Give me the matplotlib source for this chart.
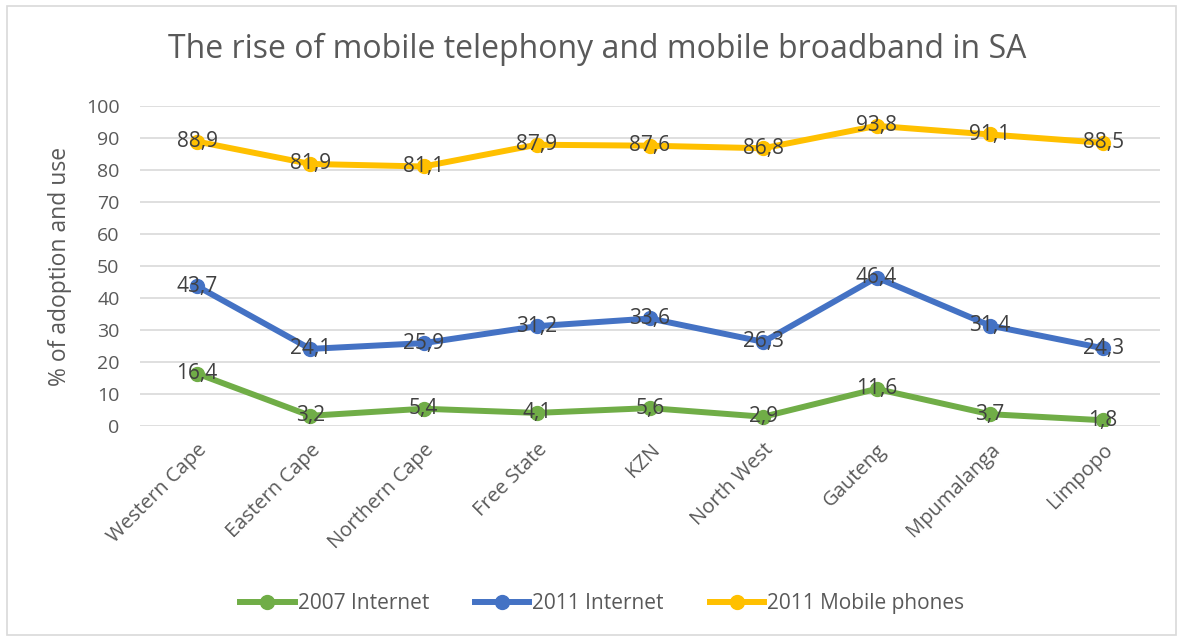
import numpy as np
import matplotlib.pyplot as plt
from matplotlib.patches import Rectangle

# data
provinces = ['Western Cape', 'Eastern Cape', 'Northern Cape', 'Free State', 'KZN',
             'North West', 'Gauteng', 'Mpumalanga', 'Limpopo']
internet_2007 = [16.4, 3.2, 5.4, 4.1, 5.6, 2.9, 11.6, 3.7, 1.8]
internet_2011 = [43.7, 24.1, 25.9, 31.2, 33.6, 26.3, 46.4, 31.4, 24.3]
mobile_2011 = [88.9, 81.9, 81.1, 87.9, 87.6, 86.8, 93.8, 91.1, 88.5]

plt.rcParams['font.family'] = ['Open Sans', 'DejaVu Sans']
txt = '#404040'
grey = '#595959'

fig = plt.figure(figsize=(11.83, 6.39), dpi=100)
fig.patches.append(Rectangle((0.006, 0.006), 0.988, 0.985, transform=fig.transFigure,
                             fill=False, edgecolor='#d9d9d9', lw=1.2))
ax = fig.add_axes([0.1187, 0.3333, 0.8616, 0.5008])

x = np.arange(len(provinces))
series = [(internet_2007, '#70AD47', '2007 Internet'),
          (internet_2011, '#4472C4', '2011 Internet'),
          (mobile_2011, '#FFC000', '2011 Mobile phones')]
for vals, col, lab in series:
    ax.plot(x, vals, color=col, lw=4.3, marker='o', ms=10, label=lab, zorder=3)
    for xi, v in zip(x, vals):
        ax.text(xi, v, f'{v:.1f}'.replace('.', ','), ha='center', va='center',
                fontsize=15, color=txt, zorder=4)

ax.set_xlim(-0.5, len(provinces) - 0.5)
ax.set_ylim(0, 100)
ax.set_yticks(range(0, 101, 10))
ax.yaxis.grid(True, color='#d9d9d9', lw=1.2)
ax.set_axisbelow(True)
for s in ax.spines.values():
    s.set_visible(False)
ax.tick_params(axis='y', length=0, colors=grey, labelsize=14, pad=15)
ax.tick_params(axis='x', length=0, colors=grey, labelsize=14.5, pad=10)
ax.set_xticks(x)
ax.set_xticklabels(provinces, rotation=45, ha='right', rotation_mode='anchor')
ax.set_ylabel('% of adoption and use', fontsize=16.5, color=grey, labelpad=10)

fig.text(0.505, 0.922, 'The rise of mobile telephony and mobile broadband in SA',
         ha='center', va='center', fontsize=23, color=grey)
fig.legend(loc='center', bbox_to_anchor=(0.509, 0.055), ncol=3, frameon=False,
           fontsize=15, labelcolor=grey, handlelength=2.6, columnspacing=2.2,
           handletextpad=0.15)

plt.savefig('out.png', dpi=100)
